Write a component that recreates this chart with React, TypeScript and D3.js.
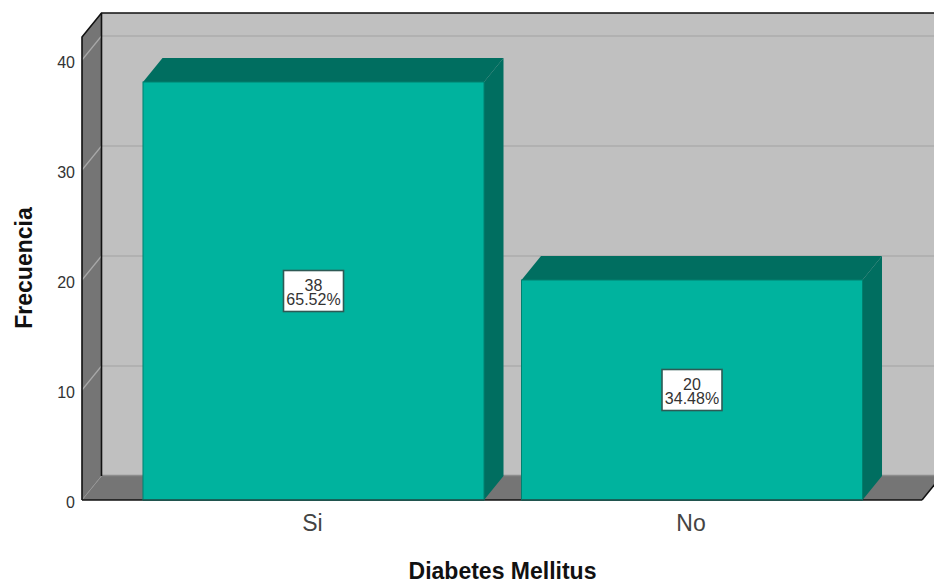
import React from "react";
import * as d3 from "d3";

const categories = ["Si", "No"];
const counts = [38, 20];
const percentLabels = ["65.52%", "34.48%"];
const yTicks = [0, 10, 20, 30, 40];
const xTitle = "Diabetes Mellitus";
const yTitle = "Frecuencia";

const W = 934;
const H = 585;
const DX = 19.5;
const DY = -24;
const LEFT = 82;
const RIGHT = 922;
const FONT = "'Liberation Sans', Arial, sans-serif";

const FRONT = "#00b39e";
const DARK = "#006e60";
const WALL = "#c0c0c0";
const FLOOR = "#757575";

const y = d3.scaleLinear().domain([0, 40]).range([500, 60]);
const x = d3
  .scaleBand<string>()
  .domain(categories)
  .range([124.25, 881.25])
  .paddingInner(0.099)
  .paddingOuter(0.0495);

const poly = (pts: [number, number][]) => pts.map((p) => p.join(",")).join(" ");

export default function App() {
  const top = y(42.09);
  const bottom = y(0);
  return (
    <svg
      width={W}
      height={H}
      viewBox={`0 0 ${W} ${H}`}
      style={{ position: "fixed", left: 0, top: 0, background: "#fff" }}
      fontFamily={FONT}
    >
      {/* back wall */}
      <rect x={LEFT + DX} y={top + DY} width={W} height={bottom - top} fill={WALL} />
      {/* left wall */}
      <polygon
        points={poly([
          [LEFT, top],
          [LEFT + DX, top + DY],
          [LEFT + DX, bottom + DY],
          [LEFT, bottom],
        ])}
        fill={FLOOR}
      />
      {/* floor */}
      <polygon
        points={poly([
          [LEFT, bottom],
          [LEFT + DX, bottom + DY],
          [RIGHT + DX, bottom + DY],
          [RIGHT, bottom],
        ])}
        fill={FLOOR}
      />
      <line x1={LEFT + DX} x2={W} y1={bottom + DY - 0.5} y2={bottom + DY - 0.5} stroke="#8c8c8c" strokeWidth={1.5} />

      {/* gridlines over back and left wall, with value labels */}
      {yTicks.map((t) => (
        <g key={t}>
          {t > 0 && (
            <>
              <line x1={LEFT + DX} x2={W} y1={y(t) + DY} y2={y(t) + DY} stroke="#adadad" strokeWidth={1.5} />
              <line x1={LEFT} x2={LEFT + DX} y1={y(t)} y2={y(t) + DY} stroke="#a8a8a8" strokeWidth={1.2} />
            </>
          )}
          {t === 0 && (
            <line x1={LEFT} x2={LEFT + DX} y1={y(t)} y2={y(t) + DY} stroke="#959595" strokeWidth={1} />
          )}
          <text x={75} y={y(t) + 7.5} textAnchor="end" fontSize={16} fill="#333">
            {t}
          </text>
        </g>
      ))}

      {/* frame edges */}
      <polyline
        points={poly([
          [LEFT, bottom],
          [LEFT, top],
          [LEFT + DX, top + DY],
          [W, top + DY],
        ])}
        fill="none"
        stroke="#111"
        strokeWidth={1.6}
      />
      <line x1={LEFT + DX} x2={LEFT + DX} y1={top + DY} y2={bottom + DY} stroke="#111" strokeWidth={1.6} />
      <line x1={LEFT} x2={RIGHT} y1={bottom} y2={bottom} stroke="#111" strokeWidth={1.6} />
      <line x1={RIGHT} x2={RIGHT + DX} y1={bottom} y2={bottom + DY} stroke="#111" strokeWidth={1.6} />

      {/* bars with their value boxes and category labels */}
      {categories.map((c, i) => {
        const x0 = x(c)!;
        const x1 = x0 + x.bandwidth();
        const yt = y(counts[i]);
        const cx = x0 + x.bandwidth() / 2;
        const cy = (yt + bottom) / 2;
        return (
          <g key={c}>
            <polygon
              points={poly([
                [x0, yt],
                [x0 + DX, yt + DY],
                [x1 + DX, yt + DY],
                [x1, yt],
              ])}
              fill={DARK}
            />
            <polygon
              points={poly([
                [x1, yt],
                [x1 + DX, yt + DY],
                [x1 + DX, bottom + DY],
                [x1, bottom],
              ])}
              fill={DARK}
            />
            <rect x={x0} y={yt} width={x.bandwidth()} height={bottom - yt} fill={FRONT} stroke="#00806f" strokeWidth={1} />
            <line x1={x0} x2={x1} y1={bottom} y2={bottom} stroke="#1f4f4a" strokeWidth={1.6} />
            <rect x={cx - 30} y={cy - 20.5} width={60} height={41} fill="#fff" stroke="#2e5a55" strokeWidth={1.6} />
            <text x={cx} y={cy - 0.5} textAnchor="middle" fontSize={16} fill="#333">
              {counts[i]}
            </text>
            <text x={cx} y={cy + 14} textAnchor="middle" fontSize={16} fill="#333">
              {percentLabels[i]}
            </text>
            <text x={cx - 1} y={531} textAnchor="middle" fontSize={23} fill="#444">
              {c}
            </text>
          </g>
        );
      })}

      {/* axis titles */}
      <text x={502.5} y={578.5} textAnchor="middle" fontSize={23} fontWeight="bold" fill="#111">
        {xTitle}
      </text>
      <text
        transform="translate(32,268) rotate(-90)"
        textAnchor="middle"
        fontSize={23}
        fontWeight="bold"
        fill="#111"
      >
        {yTitle}
      </text>
    </svg>
  );
}
